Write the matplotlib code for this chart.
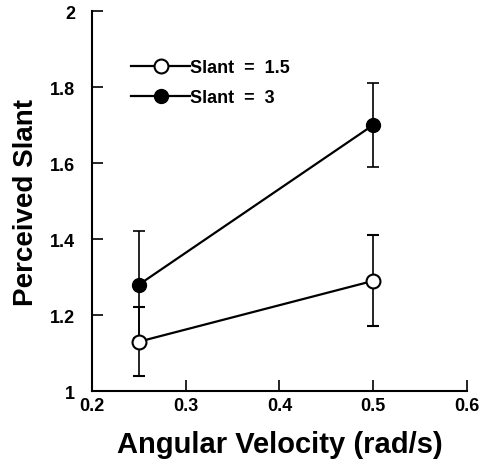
import matplotlib.pyplot as plt
from matplotlib.lines import Line2D

plt.rcParams['font.family'] = ['Liberation Sans', 'DejaVu Sans']
plt.rcParams['font.weight'] = 'bold'

velocity = [0.25, 0.5]
slant_15 = [1.13, 1.29]
slant_15_err = [0.09, 0.12]
slant_3 = [1.28, 1.70]
slant_3_err = [0.14, 0.11]

fig = plt.figure(figsize=(4.83, 4.64), dpi=100)
ax = fig.add_axes([0.1905, 0.155, 0.776, 0.819])

ax.errorbar(velocity, slant_15, yerr=slant_15_err, color='black', lw=1.6,
            marker='o', ms=10, mfc='white', mec='black', mew=1.5,
            capsize=4, elinewidth=1.2, capthick=1.2, zorder=3)
ax.errorbar(velocity, slant_3, yerr=slant_3_err, color='black', lw=1.6,
            marker='o', ms=10, mfc='black', mec='black',
            capsize=4, elinewidth=1.2, capthick=1.2, zorder=3)

ax.set_xlim(0.2, 0.6)
ax.set_ylim(1.0, 2.0)
ax.set_xticks([0.2, 0.3, 0.4, 0.5, 0.6])
ax.set_xticklabels(['0.2', '0.3', '0.4', '0.5', '0.6'])
ax.set_yticks([1.0, 1.2, 1.4, 1.6, 1.8, 2.0])
ax.set_yticklabels(['1', '1.2', '1.4', '1.6', '1.8', '2'])
ax.tick_params(direction='in', length=8, width=1.2, labelsize=13)
ax.tick_params(axis='x', pad=4)
ax.tick_params(axis='y', pad=12)
ax.spines['top'].set_visible(False)
ax.spines['right'].set_visible(False)
ax.spines['left'].set_linewidth(1.5)
ax.spines['bottom'].set_linewidth(1.5)

ax.set_xlabel('Angular Velocity (rad/s)', fontsize=21, fontweight='bold', labelpad=12)
ax.set_ylabel('Perceived Slant', fontsize=20, fontweight='bold', labelpad=8)

handles = [
    Line2D([], [], color='black', lw=1.6, marker='o', ms=10, mfc='white', mec='black', mew=1.5),
    Line2D([], [], color='black', lw=1.6, marker='o', ms=10, mfc='black', mec='black'),
]
ax.legend(handles, ['Slant  =  1.5', 'Slant  =  3'], loc='upper left',
          bbox_to_anchor=(0.06, 0.917), frameon=False, fontsize=13,
          handlelength=3.3, handletextpad=0.0, labelspacing=0.75)

fig.savefig('out.png', dpi=100)
